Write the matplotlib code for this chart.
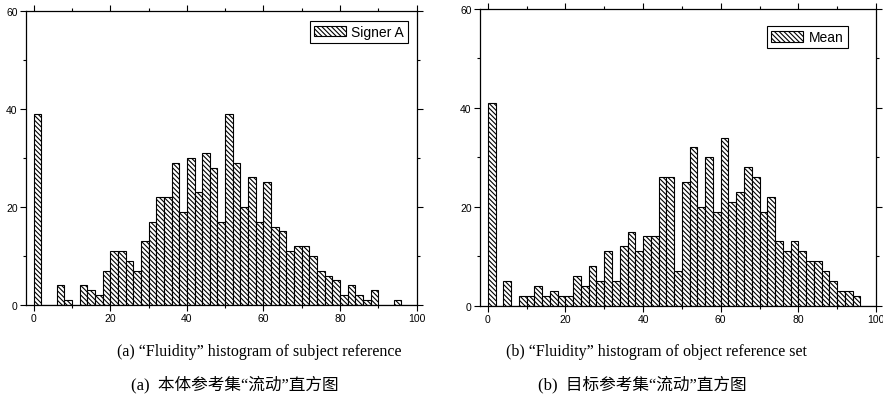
import numpy as np
import matplotlib.pyplot as plt
from matplotlib.ticker import MultipleLocator

plt.rcParams['font.family'] = ['Liberation Sans', 'DejaVu Sans']
plt.rcParams['hatch.linewidth'] = 0.8

# histogram bins (left edges, width 2)
bin_edges = list(range(0, 100, 2))

# (a) subject reference - Signer A
signer_a = [39, 0, 0, 4, 1, 0, 4, 3, 2, 7,
            11, 11, 9, 7, 13, 17, 22, 22, 29, 19,
            30, 23, 31, 28, 17, 39, 29, 20, 26, 17,
            25, 16, 15, 11, 12, 12, 10, 7, 6, 5,
            2, 4, 2, 1, 3, 0, 0, 1, 0, 0]

# (b) object reference set - Mean
mean_counts = [41, 0, 5, 0, 2, 2, 4, 2, 3, 2,
               2, 6, 4, 8, 5, 11, 5, 12, 15, 11,
               14, 14, 26, 26, 7, 25, 32, 20, 30, 19,
               34, 21, 23, 28, 26, 19, 22, 13, 11, 13,
               11, 9, 9, 7, 5, 3, 3, 2, 0, 0]

captions_en = ['(a) \u201cFluidity\u201d histogram of subject reference',
               '(b) \u201cFluidity\u201d histogram of object reference set']
captions_zh = ['(a)  本体参考集\u201c流动\u201d直方图',
               '(b)  目标参考集\u201c流动\u201d直方图']

fig = plt.figure(figsize=(8.83, 4.06), dpi=100)
ax1 = fig.add_axes([0.0294, 0.2463, 0.4425, 0.725])
ax2 = fig.add_axes([0.5436, 0.2446, 0.4485, 0.7308])

hatch = '\\' * 7

def draw_hist(ax, counts, label, anchor):
    ax.bar(bin_edges, counts, width=2, align='edge', facecolor='white',
           edgecolor='black', linewidth=0.8, hatch=hatch, label=label)
    ax.set_xlim(-2, 100)
    ax.set_ylim(0, 60)
    ax.xaxis.set_major_locator(MultipleLocator(20))
    ax.xaxis.set_minor_locator(MultipleLocator(10))
    ax.yaxis.set_major_locator(MultipleLocator(20))
    ax.yaxis.set_minor_locator(MultipleLocator(10))
    ax.tick_params(which='major', direction='out', length=4, width=0.8,
                   labelsize=7.5, pad=2)
    ax.tick_params(which='minor', direction='out', length=2, width=0.8)
    ax.tick_params(which='both', top=True, right=True)
    ax.tick_params(which='major', axis='both', labeltop=False, labelright=False)
    for s in ax.spines.values():
        s.set_linewidth(0.9)
    leg = ax.legend(loc='upper right', bbox_to_anchor=anchor,
                    bbox_transform=ax.transAxes, fontsize=10,
                    fancybox=False, framealpha=1, edgecolor='black',
                    handlelength=2.3, handleheight=0.8, handletextpad=0.4,
                    borderpad=0.3, borderaxespad=0)
    leg.get_frame().set_linewidth(0.8)

draw_hist(ax1, signer_a, 'Signer A', (0.978, 0.966))
draw_hist(ax2, mean_counts, 'Mean', (0.929, 0.943))

# captions
for xc, xz, en, zh in [(259, 235, captions_en[0], captions_zh[0]),
                       (656, 642, captions_en[1], captions_zh[1])]:
    fig.text(xc / 883, 1 - 352 / 406, en, ha='center', va='center',
             fontsize=11.5, family=['Liberation Serif', 'DejaVu Serif'])
    fig.text(xz / 883, 1 - 385 / 406, zh, ha='center', va='center',
             fontsize=12, family=['Liberation Serif', 'Noto Sans CJK SC'])

fig.savefig('out.png', dpi=100)
